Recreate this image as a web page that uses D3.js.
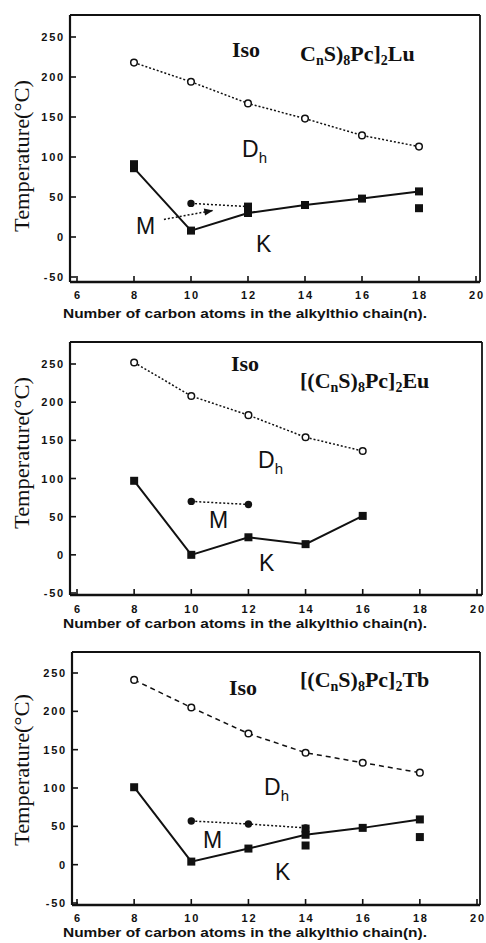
<!DOCTYPE html>
<html>
<head>
<meta charset="UTF-8">
<style>
body { margin: 0; background: #fff; }
svg { display: block; }
.tick-lbl { font-family: "Liberation Sans", Arial, sans-serif; font-weight: bold; font-size: 11px; letter-spacing: 1.8px; fill: #111; }
.xlab { font-family: "Liberation Sans", Arial, sans-serif; font-weight: bold; font-size: 13px; fill: #111; }
.ylab { font-family: "Liberation Serif", "Times New Roman", serif; font-size: 20px; fill: #111; }
.phase { font-family: "Liberation Sans", Arial, sans-serif; font-size: 23px; fill: #111; }
.serif { font-family: "Liberation Serif", "Times New Roman", serif; font-weight: bold; font-size: 22px; fill: #111; }
</style>
</head>
<body>
<svg width="486" height="943"></svg>
<script src="https://d3js.org/d3.v7.min.js"></script>
<script>
// ticks shared by all three panels
const xTicks = [6, 8, 10, 12, 14, 16, 18, 20];
const yTicks = [-50, 0, 50, 100, 150, 200, 250];

// [(CnS)8Pc]2Lu
const luN = [8, 10, 12, 14, 16, 18];
const luIso = [218, 194, 167, 148, 127, 113];
const luK = [86, 8, 30, 40, 48, 57];
const luKExtraN = [8, 12, 18];
const luKExtra = [91, 38, 36];
const luMN = [10, 12];
const luM = [42, 38];

// [(CnS)8Pc]2Eu
const euN = [8, 10, 12, 14, 16];
const euIso = [252, 208, 183, 154, 136];
const euK = [97, 0, 23, 14, 51];
const euKExtraN = [];
const euKExtra = [];
const euMN = [10, 12];
const euM = [70, 66];

// [(CnS)8Pc]2Tb
const tbN = [8, 10, 12, 14, 16, 18];
const tbIso = [241, 205, 171, 146, 133, 120];
const tbK = [101, 4, 21, 39, 48, 59];
const tbKExtraN = [14, 14, 18];
const tbKExtra = [25, 47, 36];
const tbMN = [10, 12, 14];
const tbM = [57, 53, 48];

const svg = d3.select("svg");

const panels = [
  { n: luN, iso: luIso, k: luK, kxN: luKExtraN, kx: luKExtra, mN: luMN, m: luM,
    box: [70, 15, 480, 282], xr: [77, 476], yr: [277, 37], isoDash: "2,2",
    formula: [["C",0],["n",1],["S)",0],["8",1],["Pc]",0],["2",1],["Lu",0]], fx: 300, fy: 61,
    isoPos: [232, 57], dPos: [242, 157], mPos: [136, 234], kPos: [256, 252],
    arrow: [[9.05, 22], [10.75, 33]], ylabY: 156, xlabY: 318, tickY: 299 },
  { n: euN, iso: euIso, k: euK, kxN: euKExtraN, kx: euKExtra, mN: euMN, m: euM,
    box: [70, 342, 482, 595], xr: [77, 477], yr: [593, 364], isoDash: "2,2",
    formula: [["[(C",0],["n",1],["S)",0],["8",1],["Pc]",0],["2",1],["Eu",0]], fx: 300, fy: 388,
    isoPos: [231, 371], dPos: [258, 468], mPos: [209, 528], kPos: [259, 571],
    arrow: null, ylabY: 453, xlabY: 628, tickY: 613 },
  { n: tbN, iso: tbIso, k: tbK, kxN: tbKExtraN, kx: tbKExtra, mN: tbMN, m: tbM,
    box: [72, 652, 480, 905], xr: [77, 477], yr: [903, 673], isoDash: "5,4",
    formula: [["[(C",0],["n",1],["S)",0],["8",1],["Pc]",0],["2",1],["Tb",0]], fx: 300, fy: 687,
    isoPos: [229, 695], dPos: [264, 795], mPos: [203, 848], kPos: [275, 880],
    arrow: null, ylabY: 770, xlabY: 937, tickY: 922 }
];

svg.append("defs").append("marker")
  .attr("id", "ah").attr("viewBox", "0 0 10 10").attr("refX", 9).attr("refY", 5)
  .attr("markerWidth", 9).attr("markerHeight", 6).attr("orient", "auto")
  .append("path").attr("d", "M0,1 L10,5 L0,9 Z").attr("fill", "#111");

panels.forEach(p => {
  const x = d3.scaleLinear().domain([6, 20]).range(p.xr);
  const y = d3.scaleLinear().domain([-50, 250]).range(p.yr);
  const g = svg.append("g");
  const [bl, bt, br, bb] = p.box;

  // frame
  g.append("line").attr("x1", bl).attr("x2", br).attr("y1", bt).attr("y2", bt).attr("stroke", "#111").attr("stroke-width", 1.8);
  g.append("line").attr("x1", br).attr("x2", br).attr("y1", bt).attr("y2", bb).attr("stroke", "#111").attr("stroke-width", 1.8);
  g.append("line").attr("x1", bl).attr("x2", bl).attr("y1", bt).attr("y2", bb).attr("stroke", "#111").attr("stroke-width", 2.2);
  g.append("line").attr("x1", bl).attr("x2", br).attr("y1", bb).attr("y2", bb).attr("stroke", "#111").attr("stroke-width", 2.4);

  // y ticks (inward)
  yTicks.forEach(t => {
    g.append("line").attr("x1", bl).attr("x2", bl + 6).attr("y1", y(t)).attr("y2", y(t)).attr("stroke", "#111").attr("stroke-width", 1.6);
    g.append("text").attr("class", "tick-lbl").attr("x", bl - 5).attr("y", y(t) + 4)
      .attr("text-anchor", "end").text(t);
  });
  // x ticks (inward)
  xTicks.forEach(t => {
    g.append("line").attr("x1", x(t)).attr("x2", x(t)).attr("y1", bb).attr("y2", bb - 6).attr("stroke", "#111").attr("stroke-width", 1.6);
    g.append("text").attr("class", "tick-lbl").attr("x", x(t) + 1).attr("y", p.tickY)
      .attr("text-anchor", "middle").text(t);
  });

  g.append("text").attr("class", "xlab").attr("x", 245).attr("y", p.xlabY)
    .attr("text-anchor", "middle").attr("textLength", 364).attr("lengthAdjust", "spacingAndGlyphs")
    .text("Number of carbon atoms in the alkylthio chain(n).");
  g.append("text").attr("class", "ylab")
    .attr("transform", `translate(29,${p.ylabY}) rotate(-90)`)
    .attr("text-anchor", "middle").attr("textLength", 152).attr("lengthAdjust", "spacingAndGlyphs")
    .text("Temperature(°C)");

  const line = d3.line().x(d => x(d[0])).y(d => y(d[1]));

  // Iso / Dh boundary
  const isoPts = p.n.map((n, i) => [n, p.iso[i]]);
  g.append("path").datum(isoPts).attr("d", line).attr("fill", "none")
    .attr("stroke", "#111").attr("stroke-width", 1.5).attr("stroke-dasharray", p.isoDash);
  g.selectAll(null).data(isoPts).enter().append("circle")
    .attr("cx", d => x(d[0])).attr("cy", d => y(d[1])).attr("r", 3.3)
    .attr("fill", "#fff").attr("stroke", "#111").attr("stroke-width", 1.5);

  // M boundary
  const mPts = p.mN.map((n, i) => [n, p.m[i]]);
  g.append("path").datum(mPts).attr("d", line).attr("fill", "none")
    .attr("stroke", "#111").attr("stroke-width", 1.5).attr("stroke-dasharray", "2,2");
  g.selectAll(null).data(mPts).enter().append("circle")
    .attr("cx", d => x(d[0])).attr("cy", d => y(d[1])).attr("r", 3.7).attr("fill", "#111");

  // K boundary
  const kPts = p.n.map((n, i) => [n, p.k[i]]);
  g.append("path").datum(kPts).attr("d", line).attr("fill", "none")
    .attr("stroke", "#111").attr("stroke-width", 2);
  const kAll = kPts.concat(p.kxN.map((n, i) => [n, p.kx[i]]));
  g.selectAll(null).data(kAll).enter().append("rect")
    .attr("x", d => x(d[0]) - 4).attr("y", d => y(d[1]) - 4)
    .attr("width", 8).attr("height", 8).attr("fill", "#111");

  if (p.arrow) {
    g.append("line")
      .attr("x1", x(p.arrow[0][0])).attr("y1", y(p.arrow[0][1]))
      .attr("x2", x(p.arrow[1][0])).attr("y2", y(p.arrow[1][1]))
      .attr("stroke", "#111").attr("stroke-width", 1.5).attr("stroke-dasharray", "2,2")
      .attr("marker-end", "url(#ah)");
  }

  // phase labels
  g.append("text").attr("class", "serif").attr("x", p.isoPos[0]).attr("y", p.isoPos[1]).text("Iso");
  const f = g.append("text").attr("class", "serif").attr("x", p.fx).attr("y", p.fy);
  let sub = false;
  p.formula.forEach(([s, isSub]) => {
    const dy = isSub && !sub ? 4 : (!isSub && sub ? -4 : 0);
    f.append("tspan").attr("dy", dy).style("font-size", isSub ? "14px" : null).text(s);
    sub = !!isSub;
  });
  const d = g.append("text").attr("class", "phase").attr("x", p.dPos[0]).attr("y", p.dPos[1]);
  d.append("tspan").text("D");
  d.append("tspan").attr("dy", 6).style("font-size", "15px").text("h");
  g.append("text").attr("class", "phase").attr("x", p.mPos[0]).attr("y", p.mPos[1]).text("M");
  g.append("text").attr("class", "phase").attr("x", p.kPos[0]).attr("y", p.kPos[1]).text("K");
});
</script>
</body>
</html>
